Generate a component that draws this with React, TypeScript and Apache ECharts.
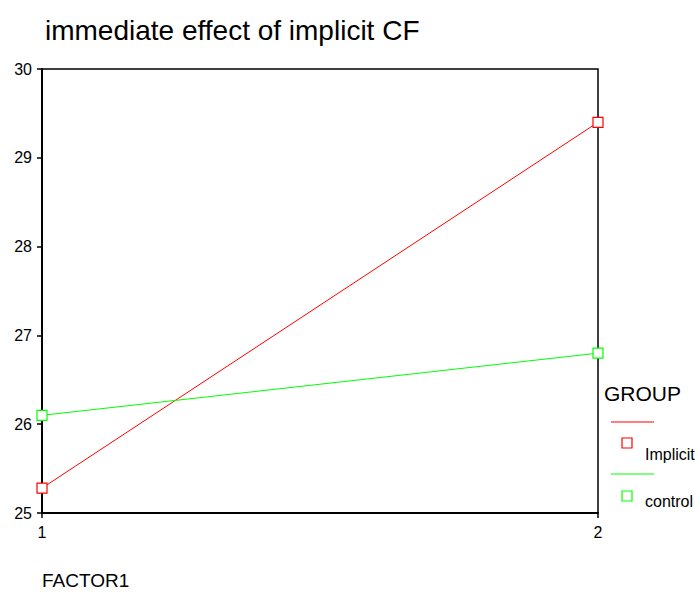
import React, { useEffect, useRef } from "react";
import * as echarts from "echarts";

const title = "immediate effect of implicit CF";
const xAxisName = "FACTOR1";
const legendTitle = "GROUP";
const factorLevels = [1, 2];
const implicitValues = [25.28, 29.4];
const controlValues = [26.1, 26.8];
const seriesNames = ["Implicit", "control"];
const seriesColors = ["#ff0000", "#00ff00"];

export default function App() {
  const ref = useRef<HTMLDivElement>(null);
  useEffect(() => {
    if (!ref.current) return;
    const chart = echarts.init(ref.current, null, { renderer: "svg" });
    const font = "'Liberation Sans', Arial, sans-serif";
    const mk = (name: string, vals: number[], color: string) => ({
      name,
      type: "line",
      data: factorLevels.map((x, i) => [x, vals[i]]),
      symbol: "rect",
      symbolSize: 10,
      lineStyle: { color, width: 1 },
      itemStyle: { color: "#ffffff", borderColor: color, borderWidth: 1.2 },
      z: 3,
    });
    chart.setOption({
      animation: false,
      backgroundColor: "#ffffff",
      title: {
        text: title,
        left: 40,
        top: 11,
        textStyle: { fontFamily: font, fontSize: 28, fontWeight: "normal", color: "#000" },
      },
      grid: {
        left: 42,
        top: 69,
        width: 556,
        height: 444,
        show: true,
        borderColor: "#000",
        borderWidth: 1.5,
        backgroundColor: "transparent",
      },
      xAxis: {
        type: "value",
        min: 1,
        max: 2,
        interval: 1,
        splitLine: { show: false },
        axisLine: { show: true, lineStyle: { color: "#000", width: 2 } },
        axisTick: { show: true, length: 5, lineStyle: { color: "#000", width: 1.5 } },
        axisLabel: { color: "#000", fontFamily: font, fontSize: 16, margin: 11 },
      },
      yAxis: {
        type: "value",
        min: 25,
        max: 30,
        interval: 1,
        splitLine: { show: false },
        axisLine: { show: true, lineStyle: { color: "#000", width: 2 } },
        axisTick: { show: true, length: 5, lineStyle: { color: "#000", width: 1.5 } },
        axisLabel: { color: "#000", fontFamily: font, fontSize: 16, margin: 10 },
      },
      series: [
        mk(seriesNames[0], implicitValues, seriesColors[0]),
        mk(seriesNames[1], controlValues, seriesColors[1]),
      ],
      graphic: [
        {
          type: "text",
          left: 42,
          top: 571,
          style: { text: xAxisName, fontFamily: font, fontSize: 19, fill: "#000" },
        },
        {
          type: "text",
          left: 604,
          top: 383,
          style: { text: legendTitle, fontFamily: font, fontSize: 21, fill: "#000" },
        },
        {
          type: "line",
          shape: { x1: 611, y1: 422, x2: 654, y2: 422 },
          style: { stroke: seriesColors[0], lineWidth: 1.2 },
        },
        {
          type: "rect",
          shape: { x: 622, y: 438, width: 10, height: 10 },
          style: { fill: "#fff", stroke: seriesColors[0], lineWidth: 1.2 },
        },
        {
          type: "text",
          left: 645,
          top: 446,
          style: { text: seriesNames[0], fontFamily: font, fontSize: 16, fill: "#000" },
        },
        {
          type: "line",
          shape: { x1: 611, y1: 474, x2: 654, y2: 474 },
          style: { stroke: seriesColors[1], lineWidth: 1.2 },
        },
        {
          type: "rect",
          shape: { x: 622, y: 491, width: 10, height: 10 },
          style: { fill: "#fff", stroke: seriesColors[1], lineWidth: 1.2 },
        },
        {
          type: "text",
          left: 645,
          top: 493,
          style: { text: seriesNames[1], fontFamily: font, fontSize: 16, fill: "#000" },
        },
      ],
    });
    return () => chart.dispose();
  }, []);
  return (
    <div
      ref={ref}
      style={{ position: "fixed", left: 0, top: 0, width: 699, height: 593, background: "#fff" }}
    />
  );
}
